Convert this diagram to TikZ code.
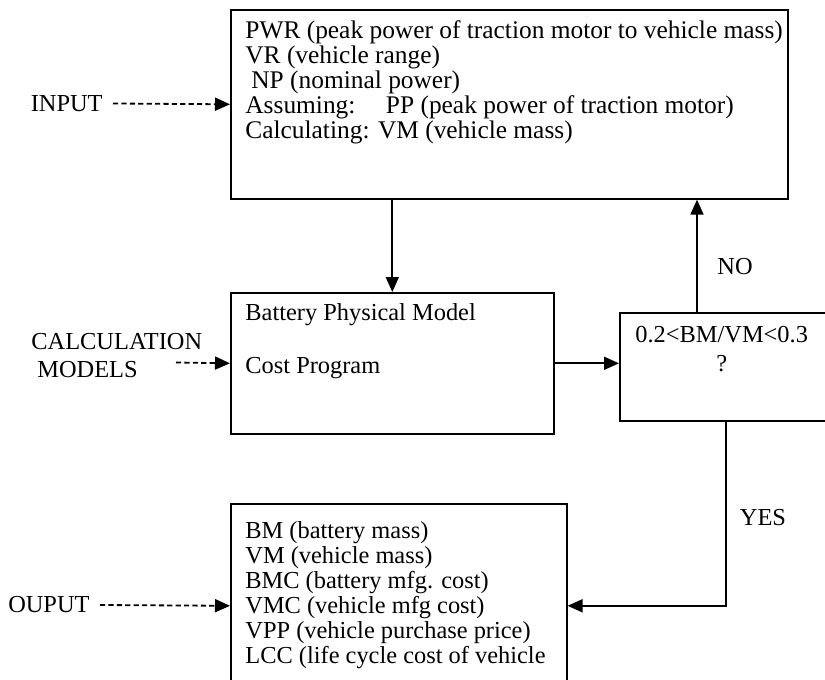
\documentclass[tikz,border=0pt]{standalone}
\usepackage{fontspec}
\setmainfont{Liberation Serif}
\usetikzlibrary{arrows.meta,positioning}
\begin{document}
\begin{tikzpicture}[x=0.5pt,y=-0.5pt,
    box/.style={draw,line width=0.8pt,anchor=north west,inner sep=0pt},
    txt/.style={align=left,anchor=north west,inner sep=0pt,font=\fontsize{12.2}{12.5}\selectfont},
    lbl/.style={inner sep=5pt,font=\fontsize{12.2}{12.5}\selectfont},
    arr/.style={-{Triangle[length=7.5pt,width=6.5pt]},line width=0.9pt},
    dasharr/.style={arr,dash pattern=on 2.6pt off 1.6pt}]
    \useasboundingbox (0,0) rectangle (825,680);
    \clip (0,0) rectangle (825,680);
    \node[box,minimum width=278.5pt,minimum height=94.5pt] (top) at (230,9) {};
    \node[box,minimum width=161.5pt,minimum height=70.5pt] (calc) at (230,292) {};
    \node[box,minimum width=120pt,minimum height=54pt] (dec) at (619,312) {};
    \node[box,minimum width=168pt,minimum height=102pt] (out) at (230,503) {};

    \node[txt,font=\fontsize{12.7}{12.5}\selectfont] (toptxt) at (245,20) {PWR (peak power of traction motor to vehicle mass)\\
        VR (vehicle range)\\
        \hspace*{3pt}NP (nominal power)\\
        Assuming:\hspace{1.2em}PP (peak power of traction motor)\\
        Calculating: VM (vehicle mass)};
    \node[txt] (calctxt) at (245,303) {Battery Physical Model\\[14pt]Cost Program};
    \node[txt,align=center] (dectxt) at (635,326) {0.2<BM/VM<0.3\\[2pt]?};
    \node[txt] (outtxt) at (245,521) {BM (battery mass)\\
        VM (vehicle mass)\\
        BMC (battery mfg. cost)\\
        VMC (vehicle mfg cost)\\
        VPP (vehicle purchase price)\\
        LCC (life cycle cost of vehicle};

    \node[lbl,anchor=east] (input) at (113,103.5) {INPUT};
    \node[lbl,anchor=west,align=left,inner sep=0pt] (models) at (31,356) {CALCULATION\\[1.5pt]\hspace*{3pt}MODELS};
    \node[lbl,anchor=east] (ouput) at (100,605) {OUPUT};
    \node[lbl] (no) at (735,267) {NO};
    \node[lbl] (yes) at (763,518) {YES};
    \coordinate (modtail) at (176,362.5);

    \draw[dasharr] (input.east) -- (top.west);
    \draw[dasharr] (modtail) -- (calc.west);
    \draw[dasharr] (ouput.east) -- (out.west);
    \draw[arr] (top.south -| calc.north) -- (calc.north);
    \draw[arr] (calc.east) -- (calc.east -| dec.west);
    \draw[arr] ([xshift=39pt]dec.north west) -- ([xshift=39pt]dec.north west |- top.south);
    \draw[arr] ([xshift=53.5pt]dec.south west) |- (out.east);
\end{tikzpicture}
\end{document}
